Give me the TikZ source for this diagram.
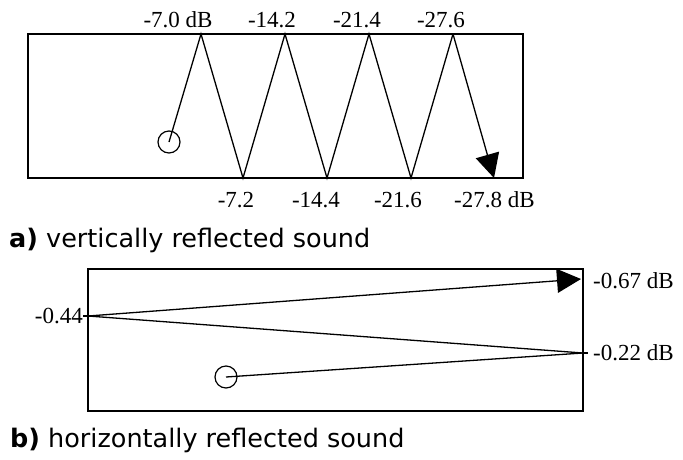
\documentclass[tikz,border=0pt]{standalone}
\usepackage{fontspec}
\setmainfont{DejaVu Sans}
\newfontfamily\dbfont{Liberation Serif}
\usetikzlibrary{arrows.meta}

\begin{document}
\begin{tikzpicture}[
  x=1pt, y=-1pt,
  >={Triangle[length=24pt, width=24pt]},
  room/.style={draw, line width=1.5pt},
  ray/.style={line width=1.3pt},
  source/.style={
    draw, circle, line width=1.2pt,
    minimum size=22pt, inner sep=0pt
  },
  dblabel/.style={font=\dbfont\fontsize{23}{23}\selectfont, inner sep=0pt},
  caption/.style={
    font=\fontsize{25.5}{26}\selectfont,
    anchor=base west, inner sep=0pt
  }
]
\useasboundingbox (0,0) rectangle (683,459);

%% ============================================================
%%  a) VERTICAL REFLECTIONS
%% ============================================================
\draw[room] (28,34) rectangle (523,178);

%% reflection points on ceiling and floor
\foreach \i/\px in {1/201, 2/285, 3/369, 4/453}
  \coordinate (top\i) at (\px,34);
\foreach \i/\px in {1/243, 2/327, 3/411, 4/494}
  \coordinate (bot\i) at (\px,178);

\node[source] (srcA) at (169,142) {};

\draw[ray] (srcA.center) -- (top1) -- (bot1) -- (top2) -- (bot2)
  -- (top3) -- (bot3) -- (top4);
\draw[ray, ->] (top4) -- (bot4);

%% levels
\node[dblabel, anchor=base] (lt1) at (178,27) {-7.0 dB};
\node[dblabel, anchor=base] (lt2) at (272,27) {-14.2};
\node[dblabel, anchor=base] (lt3) at (357,27) {-21.4};
\node[dblabel, anchor=base] (lt4) at (441,27) {-27.6};

\node[dblabel, anchor=base] (lb1) at (236,207) {-7.2};
\node[dblabel, anchor=base] (lb2) at (316,207) {-14.4};
\node[dblabel, anchor=base] (lb3) at (398,207) {-21.6};
\node[dblabel, anchor=base west] (lb4) at (454,207) {-27.8 dB};

\node[caption] (capA) at (9,247) {\textbf{a)} vertically reflected sound};

%% ============================================================
%%  b) HORIZONTAL REFLECTIONS
%% ============================================================
\draw[room] (88,269) rectangle (583,411);

\coordinate (wallL) at (88,316);
\coordinate (wallR) at (583,353);
\coordinate (rcvB) at (581,279);

\node[source] (srcB) at (226,377) {};

\draw[ray] (srcB.center) -- (wallR) -- (wallL);
\draw[ray, ->] (wallL) -- (rcvB);
\draw[ray] (wallL) -- ++(-5,0);
\draw[ray] (wallR) -- ++(5,0);

\node[dblabel, anchor=east] (lw1) at (83,316) {-0.44};
\node[dblabel, anchor=west] (lw2) at (593,281) {-0.67 dB};
\node[dblabel, anchor=west] (lw3) at (593,353) {-0.22 dB};

\node[caption] (capB) at (10,447) {\textbf{b)} horizontally reflected sound};

\end{tikzpicture}
\end{document}
